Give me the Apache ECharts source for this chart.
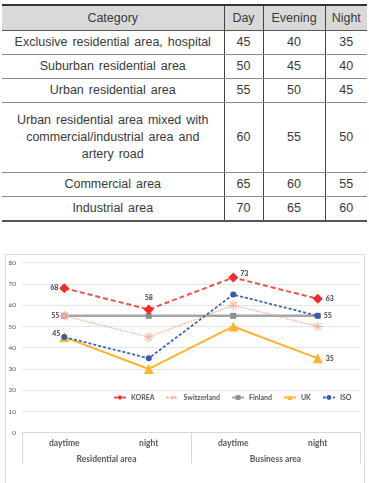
<!DOCTYPE html>
<html>
<head>
<meta charset="utf-8">
<script src="https://cdn.jsdelivr.net/npm/echarts@6/dist/echarts.min.js"></script>
<style>
  html, body { margin: 0; padding: 0; background: #fff; }
  #page { position: relative; width: 369px; height: 483px; overflow: hidden; }
  #tbl {
    position: absolute; left: 2px; top: 4px; width: 365px;
    border-collapse: collapse; table-layout: fixed;
    font-family: "Liberation Sans", Arial, sans-serif;
    font-size: 12.5px; word-spacing: 1.5px; color: #3a3a3a; text-align: center;
  }
  #tbl th, #tbl td {
    border-top: 1px solid #8a8a8a; border-bottom: 1px solid #8a8a8a;
    border-left: 1px solid #444; border-right: 1px solid #444;
    padding: 0 1px; line-height: 17px; font-weight: normal; white-space: nowrap;
  }
  #tbl tr > :first-child { border-left: none; }
  #tbl tr > :last-child { border-right: none; }
  #tbl thead th { background: #d9d9d9; height: 24px; border-top: 2px solid #333; border-bottom: 1px solid #555; }
  #tbl tbody td { height: 23px; }
  #tbl tbody tr.tall td { height: 69px; }
  #tbl tbody tr.tall td:first-child { white-space: normal; padding: 0 14px; }
  #tbl tbody tr:last-child td { border-bottom: 2px solid #555; }
  #frame { position: absolute; left: 5px; top: 254px; width: 358px; height: 240px; border: 1px solid #dcdcdc; }
  #chart { position: absolute; left: 0; top: 0; width: 369px; height: 483px; }
</style>
</head>
<body>
<div id="page">
  <table id="tbl">
    <colgroup><col style="width:222px"><col style="width:39px"><col style="width:62px"><col style="width:42px"></colgroup>
    <thead><tr id="head"></tr></thead>
    <tbody id="body"></tbody>
  </table>
  <div id="frame"></div>
  <div id="chart"></div>
</div>
<script>
// table data
const tableHead = ['Category', 'Day', 'Evening', 'Night'];
const tableCategories = [
  'Exclusive residential area, hospital',
  'Suburban residential area',
  'Urban residential area',
  'Urban residential area mixed with commercial/industrial area and artery road',
  'Commercial area',
  'Industrial area'
];
const dayLimits = [45, 50, 55, 60, 65, 70];
const eveningLimits = [40, 45, 50, 55, 60, 65];
const nightLimits = [35, 40, 45, 50, 55, 60];

// chart data
const timeLabels = ['daytime', 'night', 'daytime', 'night'];
const areaLabels = ['Residential area', 'Business area'];
const korea = [68, 58, 73, 63];
const switzerland = [55, 45, 60, 50];
const finland = [55, 55, 55, 55];
const uk = [45, 30, 50, 35];
const iso = [45, 35, 65, 55];

// build the table
const headRow = document.getElementById('head');
tableHead.forEach(h => {
  const th = document.createElement('th');
  th.textContent = h;
  headRow.appendChild(th);
});
const tbody = document.getElementById('body');
tableCategories.forEach((c, i) => {
  const tr = document.createElement('tr');
  if (c.length > 40) tr.className = 'tall';
  [c, dayLimits[i], eveningLimits[i], nightLimits[i]].forEach(v => {
    const td = document.createElement('td');
    td.textContent = v;
    tr.appendChild(td);
  });
  tbody.appendChild(tr);
});

const chart = echarts.init(document.getElementById('chart'));
const font = 'Lato, "Liberation Sans", sans-serif';
const labelStyle = { fontSize: 7, color: '#404040', fontFamily: font, fontWeight: 'bold' };

// label only at chosen points
const pick = (values, spec) => values.map((v, i) => {
  if (!spec[i]) return v;
  return { value: v, label: Object.assign({ show: true, distance: 2 }, labelStyle, spec[i]) };
});

const asterisk = 'path://M-1,-10L1,-10L1,10L-1,10Z M-10,-1L10,-1L10,1L-10,1Z M-7.8,-6.4L-6.4,-7.8L7.8,6.4L6.4,7.8Z M6.4,-7.8L7.8,-6.4L-6.4,7.8L-7.8,6.4Z';

chart.setOption({
  animation: false,
  textStyle: { fontFamily: font },
  grid: { left: 22, right: 9, top: 262.7, bottom: 50.3 },
  legend: {
    top: 389, left: 108, width: 262,
    itemWidth: 12, itemHeight: 6, itemGap: 11,
    textStyle: { fontSize: 7, color: '#595959', fontWeight: 'bold', fontFamily: font },
    data: ['KOREA', 'Switzerland', 'Finland', 'UK', 'ISO']
  },
  xAxis: [
    {
      type: 'category', data: timeLabels, position: 'bottom',
      axisLine: { show: true, lineStyle: { color: '#d9d9d9', width: 1 } },
      axisTick: { show: false },
      axisLabel: { margin: 6, fontSize: 8.5, color: '#595959', fontWeight: 'bold', fontFamily: font }
    },
    {
      type: 'category', data: areaLabels, position: 'bottom',
      axisLine: { show: false },
      axisTick: { show: true, length: 31, interval: 0, lineStyle: { color: '#d9d9d9' } },
      axisLabel: { margin: 22, fontSize: 8.5, color: '#595959', fontWeight: 'bold', fontFamily: font }
    }
  ],
  yAxis: {
    type: 'value', min: 0, max: 80, interval: 10,
    axisLine: { show: false }, axisTick: { show: false },
    axisLabel: { margin: 6, fontSize: 6.5, color: '#595959', fontFamily: font },
    splitLine: { lineStyle: { color: '#e6e6e6', width: 1 } }
  },
  series: [
    {
      name: 'Finland', type: 'line', data: pick(finland, [{ position: 'left' }]),
      symbol: 'rect', symbolSize: 6,
      itemStyle: { color: '#8f8f8f' },
      lineStyle: { color: '#a5a5a5', width: 2.5 }
    },
    {
      name: 'Switzerland', type: 'line', data: switzerland,
      symbol: asterisk, symbolSize: 10,
      itemStyle: { color: '#f4b39a' },
      lineStyle: { color: '#f4a07f', width: 1.2, type: 'dotted' }
    },
    {
      name: 'UK', type: 'line', data: pick(uk, [null, null, null, { position: 'right', distance: 3 }]),
      symbol: 'triangle', symbolSize: 10,
      itemStyle: { color: '#ffb330' },
      lineStyle: { color: '#ffb330', width: 2 }
    },
    {
      name: 'ISO', type: 'line',
      data: pick(iso, [{ position: 'left', offset: [1, -3] }, null, null, { position: 'right', distance: 3 }]),
      symbol: 'circle', symbolSize: 6,
      itemStyle: { color: '#2e5db3' },
      lineStyle: { color: '#3a66bb', width: 1.8, type: [3, 2] }
    },
    {
      name: 'KOREA', type: 'line',
      data: pick(korea, [
        { position: 'left', distance: 1 },
        { position: 'top', distance: 3 },
        { position: 'right', offset: [0, -4] },
        { position: 'right', distance: 3 }
      ]),
      symbol: 'diamond', symbolSize: 10,
      itemStyle: { color: '#f52a2a' },
      lineStyle: { color: '#f4514b', width: 2, type: [5, 3] }
    }
  ]
});
</script>
</body>
</html>
